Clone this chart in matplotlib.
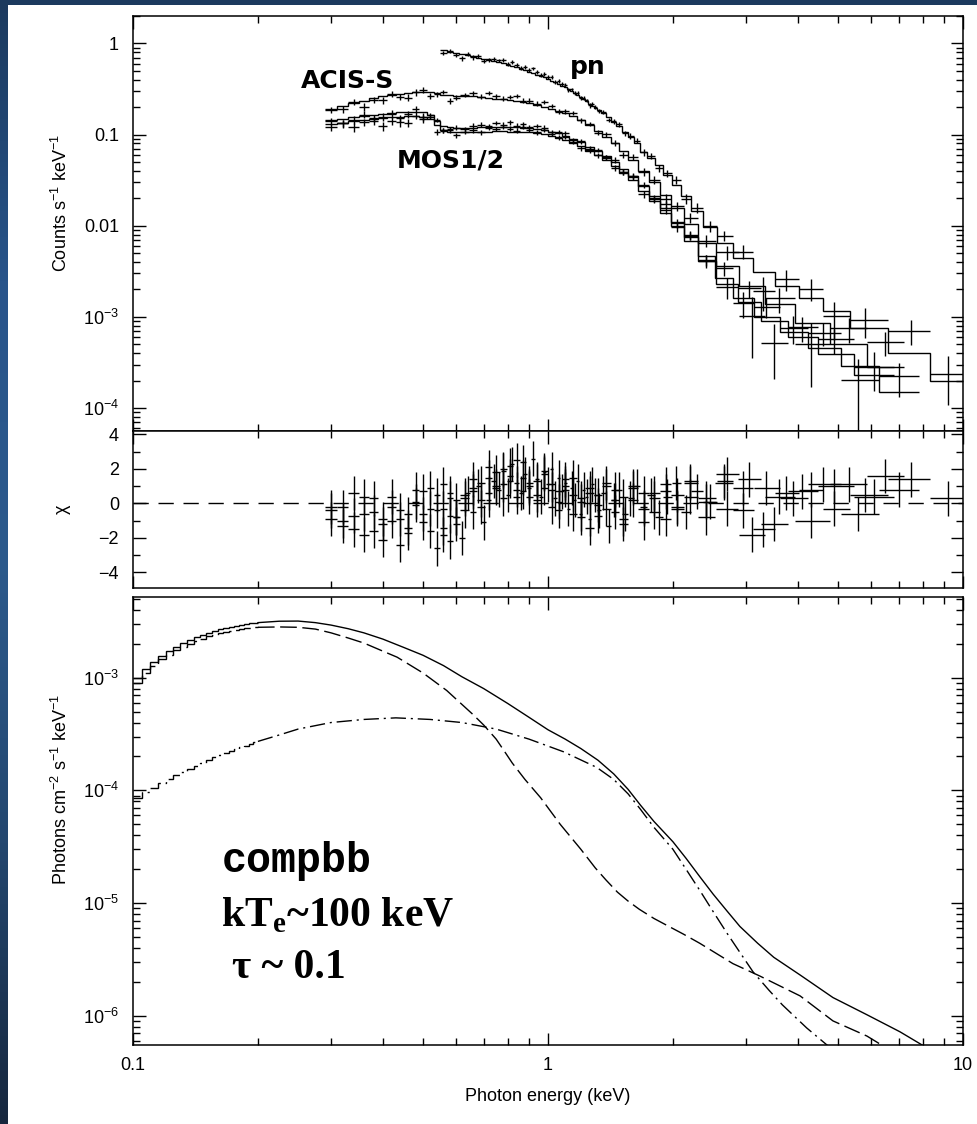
import numpy as np
import matplotlib.pyplot as plt
from matplotlib.colors import LinearSegmentedColormap
from matplotlib.patches import Rectangle
from matplotlib.ticker import LogLocator, MultipleLocator, FuncFormatter, NullFormatter

plt.rcParams['font.family'] = ['Liberation Sans', 'DejaVu Sans']
plt.rcParams['mathtext.fontset'] = 'custom'
plt.rcParams['mathtext.rm'] = 'Liberation Sans'
plt.rcParams['mathtext.it'] = 'Liberation Sans:italic'
plt.rcParams['mathtext.bf'] = 'Liberation Serif:bold'

# ---------------- datos: espectros (cuentas s^-1 keV^-1) ----------------
E_soft = [0.30, 0.32, 0.34, 0.36, 0.38, 0.40, 0.42, 0.44, 0.46, 0.48,
          0.50, 0.52, 0.54, 0.56, 0.58, 0.60, 0.63, 0.66, 0.69, 0.72,
          0.75, 0.78, 0.81, 0.84, 0.87, 0.90, 0.94, 0.98, 1.02, 1.06,
          1.10, 1.15, 1.20, 1.26, 1.32, 1.38, 1.45, 1.52, 1.60, 1.70,
          1.80, 1.92, 2.05, 2.20, 2.40]

# MOS1 / MOS2
mos_model_soft = [0.145, 0.150, 0.155, 0.160, 0.165, 0.170, 0.172, 0.175, 0.177, 0.178,
                  0.175, 0.165, 0.140, 0.125, 0.120, 0.118, 0.118, 0.119, 0.120, 0.120,
                  0.121, 0.121, 0.120, 0.120, 0.119, 0.118, 0.116, 0.113, 0.108, 0.103,
                  0.097, 0.090, 0.083, 0.074, 0.066, 0.058, 0.050, 0.042, 0.035, 0.027,
                  0.021, 0.0155, 0.011, 0.0075, 0.0046]
mos_frac_soft = [0.09] * 11 + [0.06] * 25 + [0.07, 0.07, 0.08, 0.08, 0.09, 0.10, 0.11, 0.12, 0.14]

mos1_E = E_soft + [2.65, 2.95, 3.35, 3.90, 4.60, 5.60, 7.00]
mos1_model = mos_model_soft + [2.7e-3, 1.6e-3, 1.0e-3, 6.8e-4, 4.6e-4, 2.9e-4, 1.5e-4]
mos1_frac = mos_frac_soft + [0.22, 0.28, 0.32, 0.38, 0.42, 0.50, 0.60]
mos1_chi = [-0.4, -1.3, -0.7, 0.4, -1.6, -0.9, -0.2, -2.4, -0.6, 0.8,
            -1.1, -0.3, 0.5, -1.8, -0.7, 0.2, -0.4, 0.9, 1.2, 0.6,
            1.8, 1.1, 2.2, 0.8, 1.5, 0.4, 1.3, 0.9, -0.2, 0.7,
            1.0, -0.6, 0.3, -1.4, 0.5, -0.3, 0.8, -0.9, 0.2, 0.6,
            -0.5, 1.1, -0.2, 0.4, -0.8,
            1.2, -0.4, 0.9, 0.3, 1.1, -0.6, 0.8]

mos2_norm = 0.90  # constante de normalizacion cruzada
mos2_E = E_soft + [2.70, 3.05, 3.50, 4.10, 4.90, 6.10]
mos2_model = [v * mos2_norm for v in mos_model_soft] + [2.3e-3, 1.45e-3, 9.0e-4, 6.0e-4, 3.9e-4, 2.3e-4]
mos2_frac = mos_frac_soft + [0.24, 0.30, 0.35, 0.40, 0.45, 0.55]
mos2_chi = [-0.9, -0.2, -1.5, -0.6, 0.3, -2.1, -1.0, -0.4, -1.7, 0.1,
            -0.6, 0.9, -2.6, -0.3, 0.6, -1.2, 0.3, 0.7, -0.2, 1.5,
            0.9, 2.0, 1.3, 0.4, 2.4, 1.0, 0.2, 1.7, 0.8, 0.1,
            1.4, 0.5, -0.8, 0.9, -0.1, 1.2, -0.5, 0.4, 1.0, -1.1,
            0.3, 0.7, -0.3, 1.3, 0.1,
            -0.3, 1.4, -1.2, 0.7, 1.0, 0.4]

# ACIS-S
acis_E = E_soft + [2.70, 3.10, 3.60, 4.30, 5.30, 6.50]
acis_model = [0.190, 0.205, 0.220, 0.235, 0.250, 0.262, 0.272, 0.280, 0.287, 0.292,
              0.295, 0.293, 0.285, 0.275, 0.270, 0.268, 0.265, 0.262, 0.258, 0.253,
              0.248, 0.243, 0.237, 0.232, 0.226, 0.220, 0.212, 0.203, 0.193, 0.183,
              0.172, 0.158, 0.143, 0.126, 0.110, 0.095, 0.080, 0.066, 0.053, 0.040,
              0.030, 0.022, 0.0155, 0.0105, 0.0065,
              3.6e-3, 2.2e-3, 1.4e-3, 8.5e-4, 5.0e-4, 2.8e-4]
acis_frac = [0.08] * 11 + [0.06] * 25 + [0.07, 0.07, 0.08, 0.09, 0.10, 0.11, 0.12, 0.14, 0.16] + \
            [0.25, 0.30, 0.35, 0.40, 0.45, 0.55]
acis_chi = [-0.2, -1.0, 0.6, -1.8, -0.5, -1.2, 0.4, -0.9, -1.4, -0.1,
            0.7, -1.6, -0.4, 1.1, -2.2, -0.8, 0.5, 1.4, 0.2, 2.1,
            1.0, 0.3, 1.6, 2.5, 0.7, 1.2, 0.5, 1.9, 1.1, -0.4,
            0.8, 1.5, 0.1, 0.6, -0.7, 1.0, 0.2, -1.2, 0.9, -0.3,
            0.6, -0.9, 0.5, 1.2, 0.3,
            1.7, -1.8, 0.4, -1.0, 1.1, 1.6]

# pn
pn_E = [0.56, 0.58, 0.60, 0.62, 0.64, 0.66, 0.68, 0.70, 0.72, 0.74,
        0.76, 0.78, 0.80, 0.82, 0.84, 0.86, 0.88, 0.90, 0.92, 0.94,
        0.96, 0.98, 1.00, 1.02, 1.04, 1.06, 1.08, 1.10, 1.12, 1.14,
        1.16, 1.18, 1.20, 1.22, 1.24, 1.26, 1.28, 1.30,
        1.33, 1.36, 1.40, 1.44, 1.48, 1.53, 1.58, 1.64, 1.70, 1.77,
        1.85, 1.94, 2.04, 2.15, 2.28, 2.45,
        2.65, 2.95, 3.30, 3.75, 4.30, 4.90, 5.80, 7.50, 9.20]
pn_model = [0.84, 0.81, 0.78, 0.76, 0.74, 0.72, 0.70, 0.68, 0.66, 0.64,
            0.625, 0.605, 0.585, 0.565, 0.545, 0.525, 0.505, 0.485, 0.47, 0.455,
            0.44, 0.425, 0.41, 0.39, 0.375, 0.36, 0.345, 0.33, 0.315, 0.30,
            0.285, 0.27, 0.258, 0.245, 0.232, 0.219, 0.207, 0.196,
            0.185, 0.172, 0.155, 0.138, 0.124, 0.108, 0.095, 0.080, 0.065, 0.056,
            0.046, 0.036, 0.028, 0.021, 0.0145, 0.0098,
            6.5e-3, 4.4e-3, 3.1e-3, 2.2e-3, 1.6e-3, 1.15e-3, 7.5e-4, 4.0e-4, 2.0e-4]
pn_frac = [0.05] * 38 + [0.05, 0.05, 0.05, 0.06, 0.06, 0.06, 0.07, 0.07, 0.08, 0.08,
                         0.09, 0.10, 0.11, 0.12, 0.13, 0.14] + \
          [0.15, 0.20, 0.25, 0.30, 0.35, 0.40, 0.45, 0.55, 0.65]
pn_chi = [-1.4, 0.3, -0.8, -2.0, 0.6, -0.5, 1.0, -1.1, 0.2, 1.3,
          0.8, 1.9, 0.5, 2.3, 1.2, 0.6, 1.7, 0.9, 2.6, 1.4,
          0.4, 1.8, 1.1, 2.0, 0.3, 1.5, 0.7, 1.2, -0.3, 0.9,
          0.2, 1.3, -0.6, 0.8, 0.4, -0.9, 1.1, 0.5,
          -0.4, 0.6, -1.3, 0.2, 0.8, -0.6, 0.3, 1.0, -0.2, 0.5,
          -0.8, 0.4, 1.2, -0.5, 0.7, 0.1,
          1.3, 0.9, -1.5, 0.6, 0.8, -0.3, 0.5, 1.4, 0.3]

series = [(mos1_E, mos1_model, mos1_frac, mos1_chi),
          (mos2_E, mos2_model, mos2_frac, mos2_chi),
          (acis_E, acis_model, acis_frac, acis_chi),
          (pn_E, pn_model, pn_frac, pn_chi)]

# ---------------- datos: modelo desplegado (fotones cm^-2 s^-1 keV^-1) ----------------
lo_edges = [0.100, 0.105, 0.110, 0.115, 0.120, 0.125, 0.130, 0.135, 0.140, 0.145, 0.150,
            0.155, 0.160, 0.165, 0.170, 0.175, 0.180, 0.185, 0.190, 0.195, 0.200]
tot_lo = [9.9e-4, 1.20e-3, 1.39e-3, 1.57e-3, 1.73e-3, 1.89e-3, 2.03e-3, 2.16e-3, 2.29e-3, 2.40e-3,
          2.51e-3, 2.60e-3, 2.69e-3, 2.77e-3, 2.84e-3, 2.90e-3, 2.95e-3, 3.00e-3, 3.04e-3, 3.07e-3]
bb_lo = [9.0e-4, 1.10e-3, 1.28e-3, 1.45e-3, 1.60e-3, 1.75e-3, 1.88e-3, 2.00e-3, 2.12e-3, 2.22e-3,
         2.32e-3, 2.40e-3, 2.48e-3, 2.55e-3, 2.61e-3, 2.66e-3, 2.70e-3, 2.74e-3, 2.77e-3, 2.79e-3]
cb_lo = [8.6e-5, 9.6e-5, 1.06e-4, 1.16e-4, 1.26e-4, 1.36e-4, 1.46e-4, 1.56e-4, 1.66e-4, 1.76e-4,
         1.86e-4, 1.96e-4, 2.05e-4, 2.14e-4, 2.23e-4, 2.32e-4, 2.41e-4, 2.50e-4, 2.58e-4, 2.66e-4]

# total (continua)
tot_E = [0.200, 0.225, 0.250, 0.275, 0.300, 0.330, 0.360, 0.400, 0.450, 0.500,
         0.560, 0.620, 0.700, 0.800, 0.900, 1.00, 1.10, 1.20, 1.32, 1.44,
         1.56, 1.67, 1.80, 2.00, 2.15, 2.32, 2.50, 2.70, 2.90, 3.20,
         3.50, 4.05, 4.86, 5.87, 7.05, 8.25, 9.00]
tot_F = [3.08e-3, 3.17e-3, 3.18e-3, 3.08e-3, 2.93e-3, 2.72e-3, 2.50e-3, 2.20e-3, 1.85e-3, 1.58e-3,
         1.28e-3, 1.02e-3, 8.0e-4, 5.9e-4, 4.45e-4, 3.45e-4, 2.85e-4, 2.35e-4, 1.85e-4, 1.4e-4,
         1.02e-4, 7.4e-5, 5.3e-5, 3.5e-5, 2.5e-5, 1.72e-5, 1.2e-5, 8.5e-6, 6.2e-6, 4.4e-6,
         3.3e-6, 2.3e-6, 1.45e-6, 1.02e-6, 7.2e-7, 5.1e-7, 4.1e-7]

# componente de cuerpo negro (discontinua)
bb_E = [0.200, 0.225, 0.250, 0.275, 0.300, 0.330, 0.360, 0.400, 0.433, 0.500,
        0.570, 0.660, 0.700, 0.750, 0.790, 0.820, 0.880, 0.960, 1.07, 1.20,
        1.30, 1.38, 1.47, 1.56, 1.66, 1.80, 1.94, 2.12, 2.32, 2.79,
        3.24, 4.05, 4.86, 5.87, 6.70, 7.50]
bb_F = [2.80e-3, 2.82e-3, 2.80e-3, 2.70e-3, 2.50e-3, 2.25e-3, 2.03e-3, 1.72e-3, 1.52e-3, 1.10e-3,
        7.7e-4, 4.7e-4, 3.8e-4, 2.85e-4, 2.15e-4, 1.75e-4, 1.25e-4, 8.6e-5, 5.0e-5, 3.0e-5,
        2.05e-5, 1.6e-5, 1.25e-5, 1.04e-5, 8.8e-6, 7.3e-6, 6.3e-6, 5.3e-6, 4.4e-6, 2.9e-6,
        2.25e-6, 1.5e-6, 9.0e-7, 6.6e-7, 4.9e-7, 3.9e-7]

# componente comptonizada (punto-raya)
cb_E = [0.200, 0.225, 0.250, 0.300, 0.360, 0.430, 0.520, 0.620, 0.750, 0.900,
        1.09, 1.31, 1.44, 1.56, 1.67, 1.80, 2.00, 2.15, 2.32, 2.50,
        2.70, 2.90, 3.12, 3.40, 3.67, 4.20, 4.98, 5.50]
cb_F = [2.72e-4, 3.1e-4, 3.5e-4, 4.0e-4, 4.26e-4, 4.4e-4, 4.26e-4, 4.0e-4, 3.5e-4, 2.85e-4,
        2.2e-4, 1.6e-4, 1.25e-4, 9.3e-5, 6.8e-5, 4.7e-5, 3.0e-5, 2.0e-5, 1.3e-5, 8.4e-6,
        5.4e-6, 3.65e-6, 2.45e-6, 1.7e-6, 1.25e-6, 7.8e-7, 4.6e-7, 3.4e-7]


def bin_edges(E):
    # bordes de canal: punto medio geometrico entre centros
    E = np.asarray(E, dtype=float)
    mid = np.sqrt(E[1:] * E[:-1])
    lo = np.concatenate([[E[0] ** 2 / mid[0]], mid])
    hi = np.concatenate([mid, [E[-1] ** 2 / mid[-1]]])
    return lo, hi


def fmt_log(v, pos):
    p = int(round(np.log10(v)))
    if p >= 0:
        return '%d' % round(v)
    if p >= -2:
        return ('%.' + str(-p) + 'f') % v
    return r'$10^{%d}$' % p


# ---------------- figura ----------------
fig = plt.figure(figsize=(9.78, 11.24), dpi=100)

# fondo azul de la diapositiva
bg = fig.add_axes([0, 0, 1, 1], zorder=-10)
bg.set_axis_off()
navy = LinearSegmentedColormap.from_list('navy', ['#17273e', '#24476f', '#2c5a8c', '#28548a', '#1c3a5e'])
bg.imshow(np.linspace(0, 1, 256).reshape(-1, 1), cmap=navy, extent=[0, 1, 0, 1],
          origin='lower', aspect='auto')
bg.add_patch(Rectangle((8 / 978, 0), 1, 1 - 5 / 1124, facecolor='white', edgecolor='none'))
bg.set_xlim(0, 1)
bg.set_ylim(0, 1)

L, W = 133 / 978, 830 / 978
ax1 = fig.add_axes([L, 1 - 431 / 1124, W, 415 / 1124])
ax2 = fig.add_axes([L, 1 - 588 / 1124, W, 157 / 1124], sharex=ax1)
ax3 = fig.add_axes([L, 1 - 1045 / 1124, W, 448 / 1124], sharex=ax1)

lw = 1.0
for E, model, frac, chi in series:
    E = np.asarray(E)
    model = np.asarray(model)
    frac = np.asarray(frac)
    chi = np.asarray(chi)
    lo, hi = bin_edges(E)
    err = model * frac
    data = model + chi * err
    ax1.errorbar(E, data, xerr=[E - lo, hi - E], yerr=err, fmt='none',
                 ecolor='k', elinewidth=1.0, capsize=0)
    ax1.stairs(model, np.concatenate([lo, [hi[-1]]]), color='k', lw=lw, baseline=None)
    ax2.errorbar(E, chi, xerr=[E - lo, hi - E], yerr=1.0, fmt='none',
                 ecolor='k', elinewidth=1.0, capsize=0)

ax2.axhline(0, color='k', lw=lw, linestyle=(0, (11, 7)))

dash = (0, (12, 4))
dashdot = (0, (11, 3.5, 1.5, 3.5))
ax3.stairs(tot_lo, lo_edges, color='k', lw=lw, baseline=None)
ax3.stairs(bb_lo, lo_edges, color='k', lw=lw, linestyle=dash, baseline=None)
ax3.stairs(cb_lo, lo_edges, color='k', lw=lw, linestyle=dashdot, baseline=None)
ax3.plot(tot_E, tot_F, color='k', lw=lw)
ax3.plot(bb_E, bb_F, color='k', lw=lw, linestyle=dash)
ax3.plot(cb_E, cb_F, color='k', lw=lw, linestyle=dashdot)

# ejes
ax1.set_xscale('log')
ax1.set_xlim(0.1, 10)
ax1.set_yscale('log')
ax1.set_ylim(5.6e-5, 2.0)
ax2.set_ylim(-4.9, 4.2)
ax3.set_yscale('log')
ax3.set_ylim(5.5e-7, 5.2e-3)

for ax in (ax1, ax2, ax3):
    ax.tick_params(which='both', direction='in', top=True, right=True, width=1.0,
                   labelsize=13, colors='k')
    ax.tick_params(which='major', length=9)
    ax.tick_params(which='minor', length=5)
    ax.tick_params(axis='y', pad=10)
    ax.tick_params(axis='x', pad=9)
    for s in ax.spines.values():
        s.set_linewidth(1.1)
    ax.xaxis.set_major_locator(LogLocator(base=10, numticks=20))
    ax.xaxis.set_minor_locator(LogLocator(base=10, subs=np.arange(2, 10), numticks=50))
    ax.xaxis.set_major_formatter(FuncFormatter(fmt_log))
    ax.xaxis.set_minor_formatter(NullFormatter())

for ax in (ax1, ax3):
    ax.yaxis.set_major_locator(LogLocator(base=10, numticks=20))
    ax.yaxis.set_minor_locator(LogLocator(base=10, subs=np.arange(2, 10), numticks=50))
    ax.yaxis.set_major_formatter(FuncFormatter(fmt_log))
    ax.yaxis.set_minor_formatter(NullFormatter())

ax2.yaxis.set_major_locator(MultipleLocator(2))
ax2.yaxis.set_minor_locator(MultipleLocator(1))

ax1.tick_params(labelbottom=False)
ax2.tick_params(labelbottom=False)

ax1.set_ylabel(r'Counts s$^{-1}$ keV$^{-1}$', fontsize=13)
ax2.set_ylabel('χ', fontsize=13)
ax3.set_ylabel(r'Photons cm$^{-2}$ s$^{-1}$ keV$^{-1}$', fontsize=13)
ax3.set_xlabel('Photon energy (keV)', fontsize=13, labelpad=10)
ax1.yaxis.set_label_coords(-0.075, 0.55)
ax2.yaxis.set_label_coords(-0.075, 0.5)
ax3.yaxis.set_label_coords(-0.075, 0.57)

# etiquetas de instrumentos
lab = dict(family='DejaVu Sans', fontweight='bold', fontsize=18, ha='center', va='center')
ax1.text(0.328, 0.384, 'ACIS-S', **lab)
ax1.text(1.25, 0.55, 'pn', **lab)
ax1.text(0.583, 0.052, 'MOS1/2', **lab)

# parametros del modelo
ax3.text(0.164, 1.9e-5, 'compbb', family='Liberation Mono', fontweight='bold',
         fontsize=30, ha='left', va='baseline')
ax3.text(0.163, 6.3e-6, r'kT$_{\mathbf{e}}$~100 keV', family='Liberation Serif',
         fontweight='bold', fontsize=30, ha='left', va='baseline')
ax3.text(0.173, 2.15e-6, 'τ ~ 0.1', family='Liberation Serif', fontweight='bold',
         fontsize=30, ha='left', va='baseline')

fig.savefig('out.png', dpi=100)
